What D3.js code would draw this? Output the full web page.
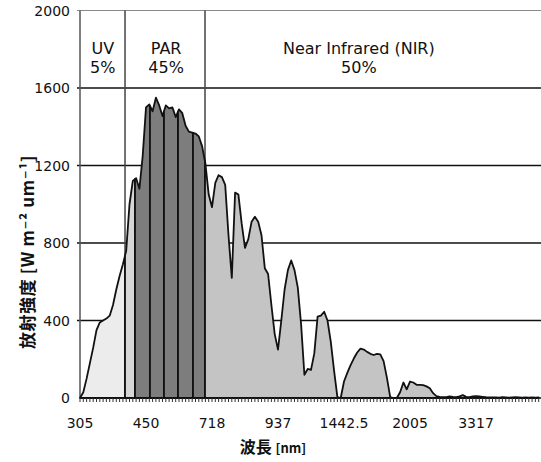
<!DOCTYPE html>
<html><head><meta charset="utf-8">
<script src="https://cdn.jsdelivr.net/npm/d3@7"></script>
<style>
html,body{margin:0;padding:0;background:#fff;}
svg{display:block;}
text{font-family:"DejaVu Sans",sans-serif;fill:#111;}
</style></head>
<body>
<svg id="chart" width="541" height="462"></svg>
<script>
// ---- data ----
const tickLabels = ["305","450","718","937","1442.5","2005","3317"];
const labelEvery = 20;
const yTicks = [0,400,800,1200,1600,2000];
const irradiance = [
  0,30,100,180,260,350,390,400,410,425,
  480,560,630,690,760,1000,1120,1135,1080,1250,
  1500,1515,1480,1550,1510,1455,1510,1495,1500,1450,
  1490,1470,1405,1375,1370,1365,1350,1300,1210,1050,
  985,1110,1150,1140,1100,840,620,1060,1050,900,
  775,820,910,936,910,840,670,640,480,330,
  250,400,560,660,710,660,570,380,120,150,
  145,230,420,425,445,400,290,140,5,0,
  85,130,170,205,235,255,250,238,228,222,
  228,225,190,105,5,0,0,30,80,45,
  85,80,68,68,66,60,50,25,10,6,
  5,4,8,6,5,8,15,6,5,8,
  10,8,6,4,3,3,3,2,4,3,
  2,3,4,3,2,3,2,3,2,3
];
// band edges in category-index units: UV | PAR bands | NIR
const bandEdges = [0, 13.64, 16.67, 21.2, 25.45, 29.7, 34.24, 37.88, 139];
const bandFills = ["#ececec","#d6d6d6","#7d7d7d","#7d7d7d","#7d7d7d","#7d7d7d","#7d7d7d","#c4c4c4"];
const regionNames = ["UV","PAR","Near Infrared (NIR)"];
const regionShares = ["5%","45%","50%"];
const regionDividers = [13.64, 37.88];
const yTitle = "放射強度 [W m⁻² um⁻¹]";
const xTitle = "波長";
const xUnit = "[nm]";

// ---- layout ----
const svg = d3.select("#chart");
const L = 80, R = 542, T = 10.5, B = 398;
const N = irradiance.length;
const x = d3.scaleLinear().domain([0, N]).range([L, R]);
const y = d3.scaleLinear().domain([0, 2000]).range([B, T]);

// gridlines
svg.append("g").selectAll("line").data(yTicks.filter(d => d > 0)).join("line")
  .attr("x1", L - 3).attr("x2", 541)
  .attr("y1", d => y(d)).attr("y2", d => y(d))
  .attr("stroke", d => d === 2000 ? "#888" : "#111")
  .attr("stroke-width", d => d === 2000 ? 1 : 1.5);

// region dividers
svg.append("g").selectAll("line").data(regionDividers).join("line")
  .attr("x1", d => x(d)).attr("x2", d => x(d))
  .attr("y1", y(2000)).attr("y2", B)
  .attr("stroke", "#444").attr("stroke-width", 1.5);

// y axis line
svg.append("line").attr("x1", L).attr("x2", L).attr("y1", y(2000)).attr("y2", B)
  .attr("stroke", "#555").attr("stroke-width", 1.5);

// interpolation helper for band edges
function valAt(t) {
  const i0 = Math.floor(t), i1 = Math.min(N - 1, Math.ceil(t));
  const f = t - i0;
  return irradiance[i0] * (1 - f) + irradiance[i1] * f;
}
function bandPoints(a, b) {
  const pts = [[a, valAt(a)]];
  for (let i = Math.floor(a) + 1; i < b; i++) if (i > a) pts.push([i, irradiance[i]]);
  pts.push([b, valAt(b)]);
  return pts;
}
const area = d3.area().x(d => x(d[0])).y0(y(0)).y1(d => y(d[1]));

const bands = d3.range(bandEdges.length - 1).map(k => ({
  pts: bandPoints(bandEdges[k], bandEdges[k + 1]), fill: bandFills[k]
}));
svg.append("g").selectAll("path").data(bands).join("path")
  .attr("d", d => area(d.pts))
  .attr("fill", d => d.fill)
  .attr("stroke", "#111").attr("stroke-width", 1.8).attr("stroke-linejoin", "round");

// x axis baseline and minor ticks
svg.append("line").attr("x1", L).attr("x2", 541).attr("y1", B).attr("y2", B)
  .attr("stroke", "#111").attr("stroke-width", 1.5);
svg.append("g").selectAll("line").data(d3.range(N + 1)).join("line")
  .attr("x1", d => x(d)).attr("x2", d => x(d))
  .attr("y1", B).attr("y2", B + 4)
  .attr("stroke", "#333").attr("stroke-width", 1);

// x tick labels
svg.append("g").selectAll("text").data(tickLabels).join("text")
  .attr("x", (d, i) => x(i * labelEvery))
  .attr("y", 428)
  .attr("text-anchor", "middle")
  .attr("font-size", 14)
  .text(d => d);

// y tick labels
svg.append("g").selectAll("text").data(yTicks).join("text")
  .attr("x", 70).attr("y", d => y(d) + 5)
  .attr("text-anchor", "end")
  .attr("font-size", 14)
  .text(d => d);

// region labels
const labelX = [x(6.9), x(26.1), x(84.5)];
regionNames.forEach((nm, i) => {
  svg.append("text").attr("x", labelX[i]).attr("y", 54)
    .attr("text-anchor", "middle").attr("font-size", 16).text(nm);
  svg.append("text").attr("x", labelX[i]).attr("y", 73)
    .attr("text-anchor", "middle").attr("font-size", 16).text(regionShares[i]);
});

// axis titles
svg.append("text")
  .attr("transform", "translate(34,252) rotate(-90)")
  .attr("text-anchor", "middle")
  .attr("font-size", 17).attr("font-weight", "bold")
  .attr("letter-spacing", 0.6)
  .style("font-family", "'Noto Sans CJK JP','DejaVu Sans',sans-serif")
  .text(yTitle);
const xt = svg.append("text").attr("x", 273).attr("y", 453)
  .attr("text-anchor", "middle").attr("font-weight", "bold")
  .style("font-family", "'Noto Sans CJK JP','DejaVu Sans',sans-serif");
xt.append("tspan").attr("font-size", 16).text(xTitle + "  ");
xt.append("tspan").attr("font-size", 13).text(xUnit);
</script>
</body></html>
